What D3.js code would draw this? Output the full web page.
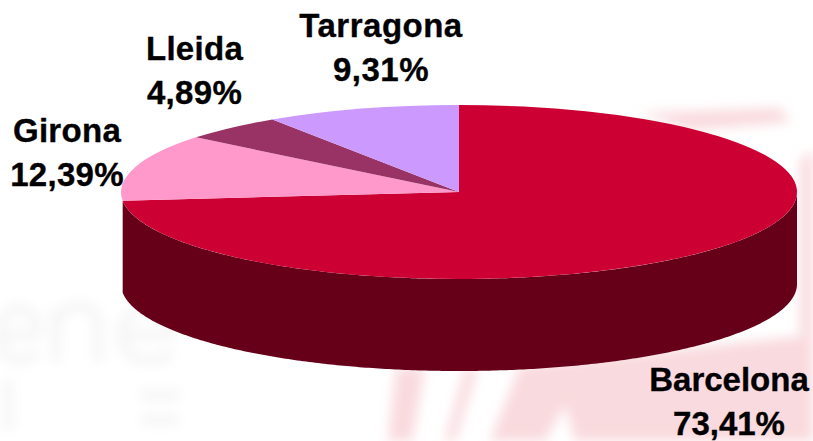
<!DOCTYPE html>
<html>
<head>
<meta charset="utf-8">
<script src="https://cdn.jsdelivr.net/npm/d3@7"></script>
<style>
  html, body { margin: 0; padding: 0; background: #fff; overflow: hidden; }
  text { font-family: "Liberation Sans", Arial, sans-serif; font-weight: bold; fill: #000; stroke: #000; stroke-width: 0.35; }
</style>
</head>
<body>
<svg id="chart" width="813" height="441"></svg>
<script>
// Data
const provinces = ["Barcelona", "Girona", "Lleida", "Tarragona"];
const shares = [73.41, 12.39, 4.89, 9.31];
const shareLabels = ["73,41%", "12,39%", "4,89%", "9,31%"];
const sliceColors = ["#cc0033", "#ff99cc", "#993366", "#cc99ff"];
const wallColor = "#660019";

// Layout
const cx = 459, cy = 192, rx = 338, ry = 87, depth = 92;
const labelAnchors = [[729, 391], [67, 142], [194.5, 60], [381, 37]];
const labelSpacing = [0, 0.3, 0.3, 0.5];

const svg = d3.select("#chart");

// Faint washed out watermark behind the chart
const defs = svg.append("defs");
defs.append("filter").attr("id", "blur").append("feGaussianBlur").attr("stdDeviation", 6);
const mark = svg.append("g").attr("filter", "url(#blur)");
const pinkShapes = [
    "M388 441L396 368L425 368L412 441Z",
    "M445 441L465 368L478 368L455 441Z",
    "M490 441L520 366L813 335L813 441L575 441L565 405L545 441Z",
    "M800 160L813 150L813 335L800 335Z",
    "M640 113L780 108L790 122L690 130Z"
];
const greyStrokes = [
    "M2 335L38 335M38 335C38 300 0 300 0 335C0 365 28 365 36 352",
    "M56 362L56 308M56 325C62 300 98 300 98 325L98 362",
    "M122 335L172 335M172 335C172 300 122 300 122 335C122 365 160 365 172 352",
    "M8 380L8 430",
    "M140 395L180 395M140 420L180 420"
];
mark.selectAll(".pink").data(pinkShapes).join("path")
    .attr("class", "pink").attr("d", d => d).attr("fill", "#f9dade");
mark.selectAll(".grey").data(greyStrokes).join("path")
    .attr("class", "grey").attr("d", d => d)
    .attr("fill", "none").attr("stroke", "#f6f6f6").attr("stroke-width", 11);

const pie = d3.pie().sort(null).value(d => d)(shares);
const x = d3.scaleLinear().domain([0, 1]).range([0, rx]);
const y = d3.scaleLinear().domain([0, 1]).range([0, ry]);

// Side wall of the disc, only the front facing part of the first slice shows
const wallStart = Math.PI / 2;
const wallAngles = d3.range(wallStart, pie[0].endAngle, 0.01).concat(pie[0].endAngle);
const wall = d3.area()
    .x(a => cx + x(Math.sin(a)))
    .y0(a => cy - y(Math.cos(a)))
    .y1(a => cy - y(Math.cos(a)) + depth);

svg.append("path")
    .attr("d", wall(wallAngles))
    .attr("fill", wallColor);

// Top face: unit arc squashed into the ellipse
const arc = d3.arc().innerRadius(0).outerRadius(1);
svg.append("g")
    .attr("transform", `translate(${cx},${cy}) scale(${x(1)},${y(1)})`)
    .selectAll("path")
    .data(pie)
    .join("path")
    .attr("d", arc)
    .attr("fill", (d, i) => sliceColors[i]);

// Labels
const labels = svg.append("g")
    .selectAll("text")
    .data(provinces)
    .join("text")
    .attr("text-anchor", "middle")
    .attr("font-size", 33)
    .attr("letter-spacing", (d, i) => labelSpacing[i])
    .attr("transform", (d, i) => `translate(${labelAnchors[i][0]},${labelAnchors[i][1]})`);

labels.append("tspan").attr("x", 0).attr("y", 0).text(d => d);
labels.append("tspan").attr("x", 0).attr("y", 44).text((d, i) => shareLabels[i]);
</script>
</body>
</html>
